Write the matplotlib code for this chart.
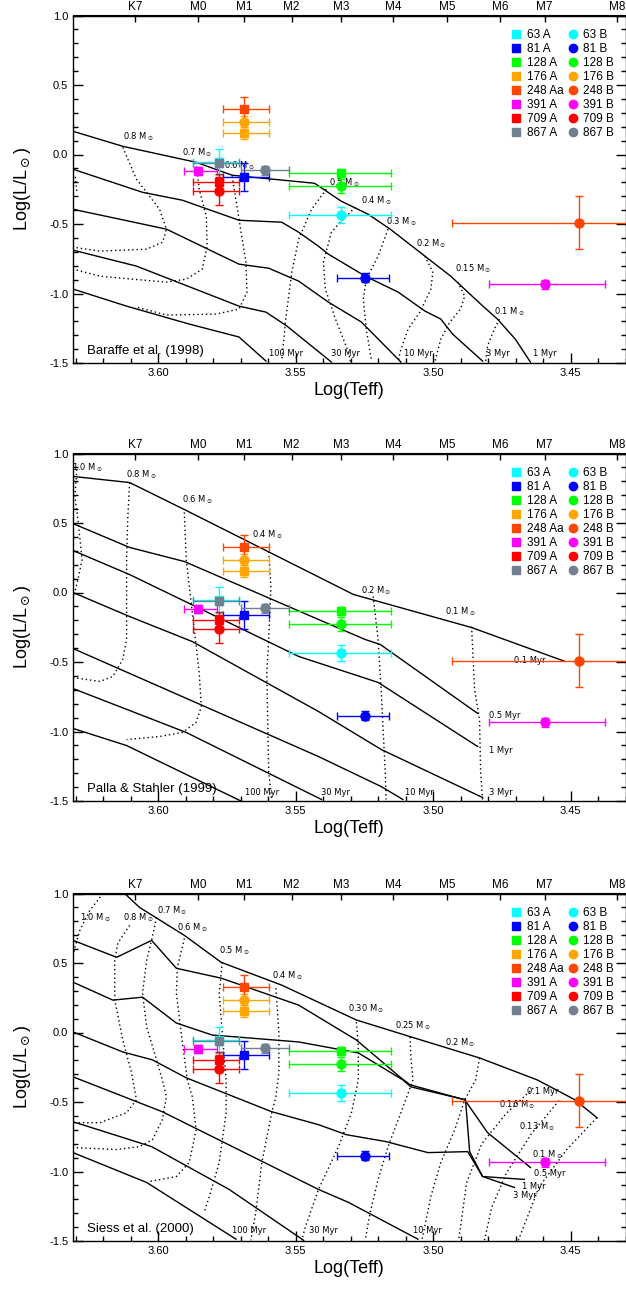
import numpy as np
import matplotlib.pyplot as plt
from matplotlib.lines import Line2D
from matplotlib.ticker import MultipleLocator

plt.rcParams['font.family'] = ['Liberation Sans', 'DejaVu Sans']
plt.rcParams['mathtext.fontset'] = 'dejavusans'
plt.rcParams['axes.unicode_minus'] = False

# ----------------------------
# spectral type scale for the top axis
# ----------------------------
spt_names = ['K7', 'M0', 'M1', 'M2', 'M3', 'M4', 'M5', 'M6', 'M7', 'M8']
spt_teff = [4060, 3850, 3705, 3560, 3415, 3270, 3125, 2990, 2880, 2710]

# ----------------------------
# binary components (same in all three panels)
# ----------------------------
pair_colors = ['#00ffff', '#0000ff', '#00ff00', '#ffa500',
               '#ff4500', '#ff00ff', '#ff0000', '#708090']
prim_labels = ['63 A', '81 A', '128 A', '176 A', '248 Aa', '391 A', '709 A', '867 A']
sec_labels = ['63 B', '81 B', '128 B', '176 B', '248 B', '391 B', '709 B', '867 B']

prim_logt = [3.578, 3.5688, 3.5334, 3.5688, 3.5688, 3.5855, 3.578, 3.578]
prim_logt_hot = [3.5855, 3.578, 3.5514, 3.578, 3.578, 3.5923, 3.5855, 3.5855]
prim_logt_cool = [3.5688, 3.5612, 3.5145, 3.5612, 3.5612, 3.5804, 3.5688, 3.5688]
prim_logl = [-0.055, -0.16, -0.135, 0.155, 0.325, -0.12, -0.20, -0.063]
prim_logl_err = [0.095, 0.10, 0.03, 0.04, 0.09, 0.03, 0.06, 0.03]

sec_logt = [3.5334, 3.5247, 3.5334, 3.5688, 3.4469, 3.4594, 3.578, 3.5612]
sec_logt_hot = [3.5514, 3.5334, 3.5514, 3.578, 3.4932, 3.4813, 3.5855, 3.5699]
sec_logt_cool = [3.5145, 3.5145, 3.5145, 3.5612, 3.4006, 3.439, 3.5688, 3.5525]
sec_logl = [-0.435, -0.885, -0.225, 0.235, -0.49, -0.935, -0.265, -0.115]
sec_logl_err = [0.055, 0.03, 0.05, 0.04, 0.19, 0.03, 0.10, 0.03]

# ----------------------------
# Baraffe et al. (1998): isochrones (solid) and tracks (dotted), (logTeff, logL)
# ----------------------------
b98_iso_1myr = [(3.631, 0.167), (3.6129, 0.059), (3.5862, -0.056), (3.5731, -0.149),
                (3.5431, -0.207), (3.5334, -0.336), (3.5236, -0.430), (3.5156, -0.537),
                (3.5030, -0.731), (3.4936, -0.875), (3.4827, -1.076), (3.4766, -1.184),
                (3.4701, -1.328), (3.4646, -1.493)]
b98_iso_3myr = [(3.631, -0.106), (3.6057, -0.272), (3.5912, -0.329), (3.5706, -0.473),
                (3.5551, -0.487), (3.5489, -0.559), (3.5417, -0.66), (3.5381, -0.717),
                (3.5247, -0.875), (3.5127, -0.990), (3.5030, -1.126), (3.4972, -1.184),
                (3.4929, -1.292), (3.4820, -1.486)]
b98_iso_10myr = [(3.631, -0.394), (3.5970, -0.537), (3.5706, -0.789), (3.5598, -0.818),
                 (3.5489, -0.911), (3.5381, -1.062), (3.5261, -1.205), (3.5117, -1.493)]
b98_iso_30myr = [(3.631, -0.688), (3.6079, -0.803), (3.5706, -1.091), (3.5608, -1.134),
                 (3.5532, -1.234), (3.5370, -1.493)]
b98_iso_100myr = [(3.631, -0.968), (3.6115, -1.091), (3.5887, -1.220), (3.5706, -1.313),
                  (3.5608, -1.486)]

b98_trk_10 = [(3.6302, -0.16), (3.6296, -0.27)]
b98_trk_08 = [(3.6129, 0.052), (3.6079, -0.178), (3.5995, -0.394), (3.5970, -0.537),
              (3.5984, -0.631), (3.6042, -0.681), (3.6212, -0.695), (3.631, -0.667)]
b98_trk_07 = [(3.5862, -0.056), (3.5851, -0.25), (3.5825, -0.444), (3.5822, -0.66),
              (3.5840, -0.825), (3.5898, -0.897), (3.5970, -0.918), (3.6093, -0.897),
              (3.6212, -0.875), (3.631, -0.825)]
b98_trk_06 = [(3.5731, -0.157), (3.5706, -0.466), (3.5681, -0.774), (3.5677, -0.990),
              (3.5706, -1.112), (3.5789, -1.148), (3.5970, -1.155), (3.6079, -1.098)]
b98_trk_05 = [(3.5388, -0.25), (3.5442, -0.394), (3.5489, -0.609), (3.5514, -0.846),
              (3.5536, -1.184), (3.5550, -1.471)]
b98_trk_04 = [(3.5283, -0.379), (3.5344, -0.501), (3.5370, -0.559), (3.5399, -0.774),
              (3.5392, -0.968), (3.5355, -1.184), (3.5308, -1.421), (3.5301, -1.493)]
b98_trk_03 = [(3.5164, -0.537), (3.5200, -0.731), (3.5243, -0.897), (3.5254, -1.040),
              (3.5243, -1.256), (3.5225, -1.471)]
b98_trk_02 = [(3.5030, -0.731), (3.5001, -0.846), (3.5008, -0.968), (3.5048, -1.134),
              (3.5091, -1.256), (3.5120, -1.421), (3.5127, -1.493)]
b98_trk_015 = [(3.4910, -0.918), (3.4885, -1.019), (3.4900, -1.112), (3.4939, -1.206),
               (3.4972, -1.328), (3.4994, -1.493)]
b98_trk_01 = [(3.4759, -1.184), (3.4777, -1.256), (3.4802, -1.378), (3.4809, -1.493)]

b98_labels = [('0.8 M$_\\odot$', 3.6129, 0.131), ('0.7 M$_\\odot$', 3.5912, 0.016),
              ('0.6 M$_\\odot$', 3.5760, -0.078), ('0.5 M$_\\odot$', 3.5377, -0.20),
              ('0.4 M$_\\odot$', 3.5261, -0.336), ('0.3 M$_\\odot$', 3.5171, -0.487),
              ('0.2 M$_\\odot$', 3.5062, -0.645), ('0.15 M$_\\odot$', 3.4921, -0.825),
              ('0.1 M$_\\odot$', 3.4777, -1.134),
              ('100 Myr', 3.5598, -1.435), ('30 Myr', 3.537, -1.435), ('10 Myr', 3.5106, -1.435),
              ('3 Myr', 3.4809, -1.435), ('1 Myr', 3.4636, -1.435)]

# ----------------------------
# Palla & Stahler (1999)
# ----------------------------
p99_iso_01myr = [(3.631, 0.835), (3.6104, 0.791), (3.5905, 0.597), (3.5290, -0.014),
                 (3.4860, -0.252), (3.4520, -0.496)]
p99_iso_05myr = [(3.631, 0.496), (3.6104, 0.324), (3.5905, 0.223), (3.5417, -0.194),
                 (3.5247, -0.338), (3.5192, -0.374), (3.4838, -0.870)]
p99_iso_1myr = [(3.631, 0.302), (3.6104, 0.129), (3.5489, -0.460), (3.5200, -0.647),
                (3.4838, -1.108)]
p99_iso_3myr = [(3.631, 0.0), (3.6104, -0.173), (3.5876, -0.353), (3.5417, -0.856),
                (3.5189, -1.129), (3.4820, -1.475)]
p99_iso_10myr = [(3.631, -0.403), (3.5417, -1.180), (3.5189, -1.396), (3.5110, -1.489)]
p99_iso_30myr = [(3.631, -0.691), (3.5898, -1.007), (3.5406, -1.489)]
p99_iso_100myr = [(3.631, -0.978), (3.6115, -1.101), (3.5695, -1.504)]

p99_trk_10 = [(3.6296, 0.885), (3.6303, 0.691), (3.6292, 0.525), (3.6277, 0.237),
              (3.6292, 0.094), (3.631, -0.050)]
p99_trk_08 = [(3.6104, 0.791), (3.6111, 0.525), (3.6115, 0.237), (3.6115, -0.338),
              (3.6129, -0.482), (3.6165, -0.604), (3.6212, -0.640), (3.631, -0.612)]
p99_trk_06 = [(3.5905, 0.576), (3.5898, 0.237), (3.5876, -0.144), (3.5851, -0.576),
              (3.5843, -0.820), (3.5862, -0.935), (3.5912, -1.007), (3.5995, -1.036),
              (3.6115, -1.058)]
p99_trk_04 = [(3.5598, 0.295), (3.5590, 0.043), (3.5598, -0.338), (3.5605, -0.576),
              (3.5598, -1.295), (3.5587, -1.489)]
p99_trk_02 = [(3.5218, -0.029), (3.5200, -0.338), (3.5189, -0.698), (3.5174, -1.295),
              (3.5171, -1.489)]
p99_trk_01 = [(3.4860, -0.245), (3.4849, -0.698), (3.4831, -0.914), (3.4827, -1.295),
              (3.4820, -1.489)]

p99_labels = [('1.0 M$_\\odot$', 3.6312, 0.90), ('0.8 M$_\\odot$', 3.6118, 0.85),
              ('0.6 M$_\\odot$', 3.5912, 0.669), ('0.4 M$_\\odot$', 3.5659, 0.417),
              ('0.2 M$_\\odot$', 3.5261, 0.014), ('0.1 M$_\\odot$', 3.4957, -0.137),
              ('0.1 Myr', 3.4704, -0.489), ('0.5 Myr', 3.4798, -0.885), ('1 Myr', 3.4795, -1.137),
              ('3 Myr', 3.4795, -1.439), ('10 Myr', 3.5102, -1.439), ('30 Myr', 3.5406, -1.439),
              ('100 Myr', 3.5684, -1.439)]

# ----------------------------
# Siess et al. (2000)
# ----------------------------
s00_iso_01myr = [(3.6122, 1.0), (3.6068, 0.900), (3.5905, 0.699), (3.5771, 0.505),
                 (3.5551, 0.341), (3.5279, 0.090), (3.5080, -0.032), (3.4831, -0.183),
                 (3.4621, -0.341), (3.4484, -0.484), (3.4404, -0.613)]
s00_iso_05myr = [(3.631, 0.663), (3.6151, 0.541), (3.6024, 0.663), (3.5934, 0.462),
                 (3.5771, 0.391), (3.5489, 0.197), (3.5279, -0.054), (3.5117, -0.326),
                 (3.5084, -0.376), (3.4885, -0.484), (3.4802, -0.720), (3.4646, -0.971)]
s00_iso_1myr = [(3.631, 0.362), (3.6165, 0.233), (3.6057, 0.254), (3.5934, 0.068),
                (3.5804, -0.018), (3.5489, -0.068), (3.5272, -0.147), (3.5110, -0.341),
                (3.5081, -0.391), (3.4882, -0.484), (3.4867, -0.857), (3.4820, -1.036),
                (3.4668, -1.057)]
s00_iso_3myr = [(3.631, 0.004), (3.6129, -0.140), (3.6021, -0.197), (3.5898, -0.326),
                (3.5587, -0.570), (3.5417, -0.663), (3.5316, -0.735), (3.5171, -0.785),
                (3.5019, -0.864), (3.4874, -0.857), (3.4820, -1.036), (3.4704, -1.115)]
s00_iso_10myr = [(3.631, -0.319), (3.5985, -0.570), (3.5417, -1.129), (3.5308, -1.222),
                 (3.5055, -1.487)]
s00_iso_30myr = [(3.631, -0.642), (3.6024, -0.821), (3.5742, -1.129), (3.5471, -1.495)]
s00_iso_100myr = [(3.631, -0.864), (3.6042, -1.079), (3.5717, -1.487)]

s00_trk_10 = [(3.6201, 1.0), (3.6249, 0.878), (3.6285, 0.735), (3.6303, 0.613), (3.631, 0.556)]
s00_trk_08 = [(3.6104, 0.771), (3.6147, 0.642), (3.6158, 0.520), (3.6158, 0.233),
              (3.6129, -0.054), (3.6097, -0.290), (3.6079, -0.484), (3.6115, -0.577),
              (3.6212, -0.649), (3.631, -0.649)]
s00_trk_07 = [(3.6006, 0.828), (3.6024, 0.663), (3.6042, 0.520), (3.6057, 0.283),
              (3.6042, 0.039), (3.6006, -0.197), (3.5985, -0.341), (3.5970, -0.462),
              (3.5985, -0.627), (3.6021, -0.771), (3.6068, -0.821), (3.6151, -0.842),
              (3.631, -0.828)]
s00_trk_06 = [(3.5905, 0.677), (3.5930, 0.470), (3.5934, 0.283), (3.5912, -0.075),
              (3.5894, -0.341), (3.5876, -0.462), (3.5862, -0.699), (3.5887, -0.935),
              (3.5934, -1.036), (3.6032, -1.072)]
s00_trk_05 = [(3.5767, 0.505), (3.5778, 0.283), (3.5767, -0.004), (3.5753, -0.341),
              (3.5753, -0.577), (3.5778, -0.935), (3.5814, -1.179), (3.5833, -1.294)]
s00_trk_04 = [(3.5572, 0.319), (3.5561, -0.004), (3.5561, -0.290), (3.5572, -0.462),
              (3.5587, -0.577), (3.5623, -0.935), (3.5645, -1.294), (3.5663, -1.495)]
s00_trk_030 = [(3.5279, 0.075), (3.5272, -0.104), (3.5272, -0.341), (3.5297, -0.577),
               (3.5344, -0.821), (3.5417, -1.129), (3.5464, -1.394), (3.5478, -1.495)]
s00_trk_025 = [(3.5084, -0.032), (3.5080, -0.197), (3.5073, -0.341), (3.5117, -0.577),
               (3.5164, -0.821), (3.5200, -1.057), (3.5229, -1.294), (3.5247, -1.495)]
s00_trk_02 = [(3.4831, -0.183), (3.4845, -0.341), (3.4885, -0.484), (3.4921, -0.699),
              (3.4972, -0.935), (3.5008, -1.179), (3.5030, -1.394), (3.5041, -1.495)]
s00_trk_016 = [(3.4636, -0.40), (3.4733, -0.58), (3.4823, -0.80), (3.4878, -1.08),
               (3.4907, -1.495)]
s00_trk_013 = [(3.4542, -0.49), (3.4643, -0.73), (3.4733, -1.01), (3.4787, -1.26),
               (3.4813, -1.495)]
s00_trk_01 = [(3.4404, -0.613), (3.4513, -0.84), (3.4614, -1.11), (3.4690, -1.495)]

s00_labels = [('1.0 M$_\\odot$', 3.6285, 0.828), ('0.8 M$_\\odot$', 3.6129, 0.828),
              ('0.7 M$_\\odot$', 3.6006, 0.878), ('0.6 M$_\\odot$', 3.5930, 0.756),
              ('0.5 M$_\\odot$', 3.5778, 0.591), ('0.4 M$_\\odot$', 3.5587, 0.405),
              ('0.30 M$_\\odot$', 3.5308, 0.168), ('0.25 M$_\\odot$', 3.5138, 0.047),
              ('0.2 M$_\\odot$', 3.4957, -0.075), ('0.16 M$_\\odot$', 3.4759, -0.520),
              ('0.13 M$_\\odot$', 3.4686, -0.677), ('0.1 M$_\\odot$', 3.4639, -0.878),
              ('0.1 Myr', 3.4657, -0.427), ('0.5 Myr', 3.4632, -1.014), ('1 Myr', 3.4675, -1.108),
              ('3 Myr', 3.4708, -1.172), ('10 Myr', 3.5073, -1.423), ('30 Myr', 3.5453, -1.423),
              ('100 Myr', 3.5731, -1.423)]

panels = [
    ('Baraffe et al. (1998)',
     [b98_iso_1myr, b98_iso_3myr, b98_iso_10myr, b98_iso_30myr, b98_iso_100myr],
     [b98_trk_10, b98_trk_08, b98_trk_07, b98_trk_06, b98_trk_05, b98_trk_04,
      b98_trk_03, b98_trk_02, b98_trk_015, b98_trk_01],
     b98_labels, 363),
    ('Palla & Stahler (1999)',
     [p99_iso_01myr, p99_iso_05myr, p99_iso_1myr, p99_iso_3myr, p99_iso_10myr,
      p99_iso_30myr, p99_iso_100myr],
     [p99_trk_10, p99_trk_08, p99_trk_06, p99_trk_04, p99_trk_02, p99_trk_01],
     p99_labels, 801),
    ('Siess et al. (2000)',
     [s00_iso_01myr, s00_iso_05myr, s00_iso_1myr, s00_iso_3myr, s00_iso_10myr,
      s00_iso_30myr, s00_iso_100myr],
     [s00_trk_10, s00_trk_08, s00_trk_07, s00_trk_06, s00_trk_05, s00_trk_04,
      s00_trk_030, s00_trk_025, s00_trk_02, s00_trk_016, s00_trk_013, s00_trk_01],
     s00_labels, 1241),
]

W, H = 626, 1290
fig = plt.figure(figsize=(W / 100, H / 100), dpi=100)

for name, isochrones, tracks, labels, bottom_px in panels:
    ax = fig.add_axes([73 / W, 1 - bottom_px / H, 552.5 / W, 347.5 / H])

    for curve in isochrones:
        t, l = zip(*curve)
        ax.plot(t, l, color='k', lw=1.0, zorder=1)
    for curve in tracks:
        t, l = zip(*curve)
        ax.plot(t, l, color='k', lw=1.0, ls=(0, (1, 2.1)), zorder=1)
    for txt, t, l in labels:
        ax.text(t, l, txt, fontsize=6, family='DejaVu Sans', ha='left', va='center', zorder=2)

    for i, c in enumerate(pair_colors):
        ax.errorbar(prim_logt[i], prim_logl[i],
                    xerr=[[prim_logt_hot[i] - prim_logt[i]], [prim_logt[i] - prim_logt_cool[i]]],
                    yerr=prim_logl_err[i], fmt='s', color=c, ms=6, elinewidth=1,
                    capsize=3, capthick=1, zorder=3)
        ax.errorbar(sec_logt[i], sec_logl[i],
                    xerr=[[sec_logt_hot[i] - sec_logt[i]], [sec_logt[i] - sec_logt_cool[i]]],
                    yerr=sec_logl_err[i], fmt='o', color=c, ms=6.5, elinewidth=1,
                    capsize=3, capthick=1, zorder=3)

    ax.set_xlim(3.631, 3.430)
    ax.set_ylim(-1.5, 1.0)
    ax.xaxis.set_major_locator(MultipleLocator(0.05))
    ax.xaxis.set_minor_locator(MultipleLocator(0.01))
    ax.yaxis.set_major_locator(MultipleLocator(0.5))
    ax.yaxis.set_minor_locator(MultipleLocator(0.1))
    ax.xaxis.set_major_formatter(plt.FormatStrFormatter('%.2f'))
    ax.yaxis.set_major_formatter(plt.FormatStrFormatter('%.1f'))
    ax.tick_params(which='both', direction='in', top=False, right=True, labelsize=8, width=1)
    ax.tick_params(which='major', length=7)
    ax.tick_params(which='minor', length=3.5)
    for s in ax.spines.values():
        s.set_linewidth(1)

    top = ax.secondary_xaxis('top')
    top.set_xticks(np.log10(spt_teff), labels=spt_names)
    top.tick_params(direction='in', length=5, width=1, labelsize=8.5, pad=2)

    ax.set_xlabel('Log(Teff)', fontsize=13)
    ax.xaxis.set_label_coords(0.5, -0.055)
    ax.set_ylabel('Log(L/L$_\\odot$)', fontsize=13)
    ax.yaxis.set_label_coords(-0.072, 0.5)

    ax.text(0.025, 0.035, name, transform=ax.transAxes, fontsize=9.5, ha='left', va='center')

    handles = [Line2D([], [], marker='s', ls='none', color=c, ms=5.5) for c in pair_colors] + \
              [Line2D([], [], marker='o', ls='none', color=c, ms=6) for c in pair_colors]
    ax.legend(handles, prim_labels + sec_labels, ncol=2, loc='upper right',
              bbox_to_anchor=(0.98, 0.962), frameon=False, fontsize=8.5,
              handlelength=0.8, handletextpad=0.5, columnspacing=0.4,
              labelspacing=0.17, borderpad=0, borderaxespad=0)

fig.savefig('out.png', dpi=100)
